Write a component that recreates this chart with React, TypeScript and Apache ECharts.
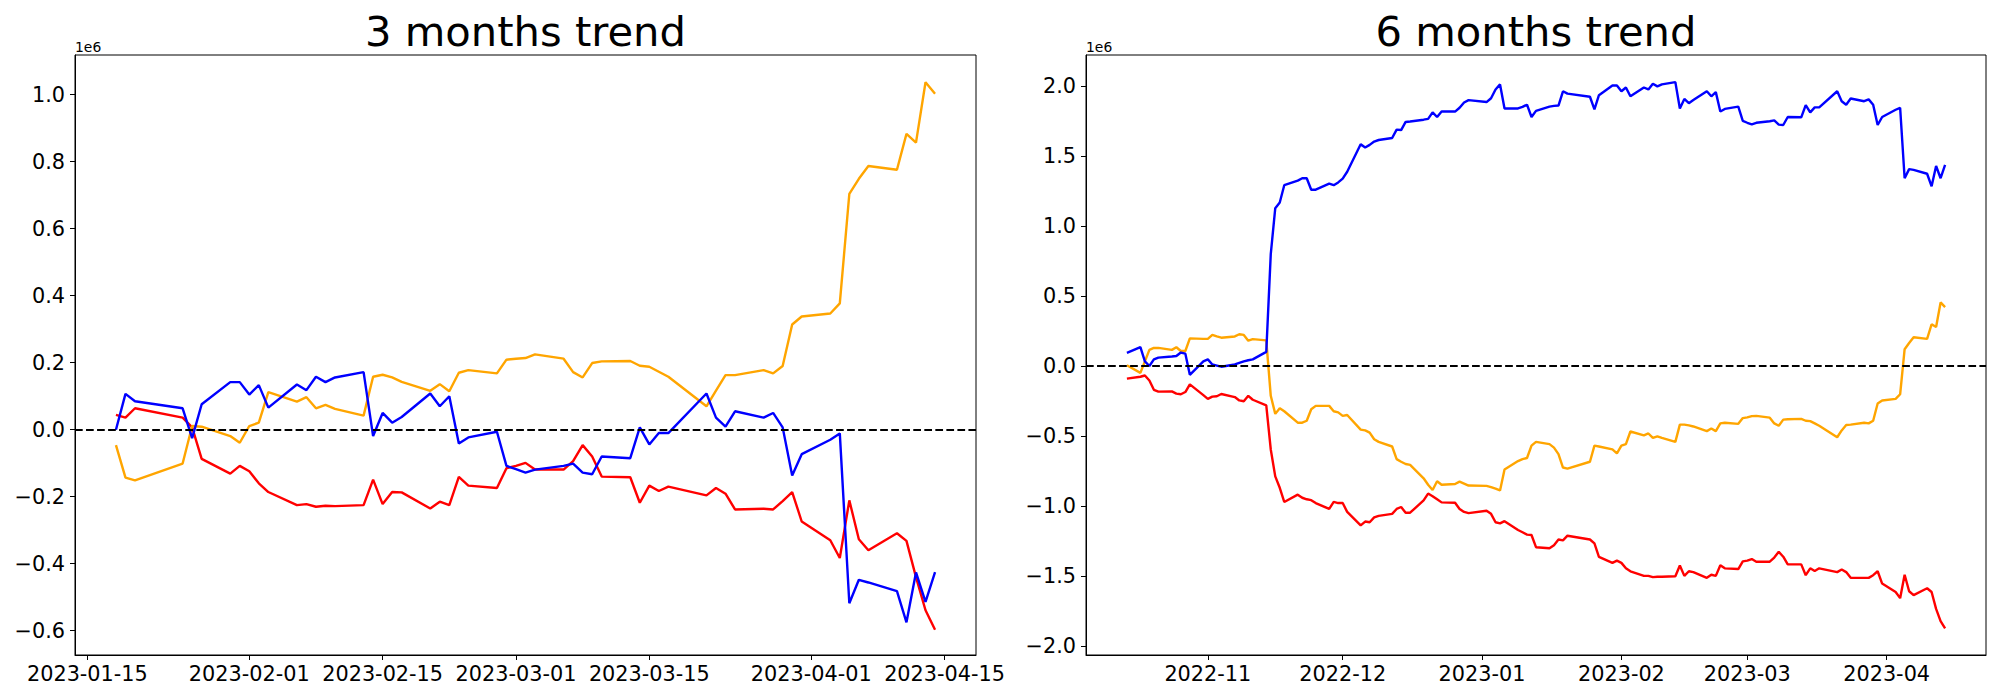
import React, { useEffect, useRef } from "react";
import * as echarts from "echarts";

// ---------- data (values in units of 1e6) ----------
const TITLES = ["3 months trend", "6 months trend"];
const OFFSET_TEXT = "1e6";

const LEFT_DATES = [
  "2023-01-18", "2023-01-19", "2023-01-20", "2023-01-25", "2023-01-26", "2023-01-27", "2023-01-30", "2023-01-31",
  "2023-02-01", "2023-02-02", "2023-02-03", "2023-02-06", "2023-02-07", "2023-02-08", "2023-02-09", "2023-02-10",
  "2023-02-13", "2023-02-14", "2023-02-15", "2023-02-16", "2023-02-17", "2023-02-20", "2023-02-21", "2023-02-22",
  "2023-02-23", "2023-02-24", "2023-02-27", "2023-02-28",
  "2023-03-01", "2023-03-02", "2023-03-03", "2023-03-06", "2023-03-07", "2023-03-08", "2023-03-09", "2023-03-10",
  "2023-03-13", "2023-03-14", "2023-03-15", "2023-03-16", "2023-03-17", "2023-03-21", "2023-03-22", "2023-03-23",
  "2023-03-24", "2023-03-27", "2023-03-28", "2023-03-29", "2023-03-30", "2023-03-31",
  "2023-04-03", "2023-04-04", "2023-04-05", "2023-04-06", "2023-04-07", "2023-04-10", "2023-04-11", "2023-04-12",
  "2023-04-13", "2023-04-14",
];
const LEFT_BLUE = [
  0.0, 0.107, 0.085, 0.064, -0.025, 0.076, 0.142, 0.142,
  0.105, 0.133, 0.066, 0.135, 0.118, 0.158, 0.142, 0.156,
  0.172, -0.019, 0.05, 0.021, 0.038, 0.108, 0.07, 0.1,
  -0.041, -0.023, -0.006, -0.108,
  -0.118, -0.128, -0.119, -0.108, -0.101, -0.128, -0.133, -0.08,
  -0.085, 0.007, -0.044, -0.01, -0.01, 0.108, 0.036, 0.009,
  0.055, 0.036, 0.05, 0.007, -0.137, -0.073,
  -0.03, -0.011, -0.518, -0.448, -0.456, -0.482, -0.575, -0.426,
  -0.514, -0.425,
];
const LEFT_RED = [
  0.044, 0.036, 0.064, 0.036, 0.007, -0.087, -0.131, -0.108,
  -0.124, -0.16, -0.186, -0.225, -0.222, -0.23, -0.227, -0.228,
  -0.225, -0.149, -0.222, -0.186, -0.187, -0.235, -0.215, -0.225,
  -0.141, -0.167, -0.174, -0.115,
  -0.108, -0.099, -0.119, -0.119, -0.094, -0.046, -0.08, -0.14,
  -0.142, -0.218, -0.167, -0.183, -0.17, -0.196, -0.174, -0.191,
  -0.238, -0.236, -0.238, -0.213, -0.186, -0.274,
  -0.33, -0.383, -0.211, -0.327, -0.36, -0.309, -0.332, -0.44,
  -0.539, -0.597,
];
const LEFT_ORANGE = [
  -0.046, -0.143, -0.151, -0.101, 0.011, 0.009, -0.019, -0.039,
  0.011, 0.021, 0.112, 0.084, 0.097, 0.064, 0.074, 0.062,
  0.042, 0.158, 0.164, 0.156, 0.143, 0.116, 0.136, 0.115,
  0.17, 0.178, 0.168, 0.209,
  0.212, 0.214, 0.225, 0.212, 0.172, 0.156, 0.199, 0.204,
  0.205, 0.191, 0.188, 0.173, 0.158, 0.07, 0.117, 0.163,
  0.163, 0.178, 0.168, 0.19, 0.314, 0.338,
  0.347, 0.377, 0.704, 0.749, 0.787, 0.776, 0.883, 0.857,
  1.037, 1.003,
];

const RIGHT_DATES = [
  // Oct (12)
  "2022-10-14", "2022-10-17", "2022-10-18", "2022-10-19", "2022-10-20", "2022-10-21",
  "2022-10-24", "2022-10-25", "2022-10-26", "2022-10-27", "2022-10-28", "2022-10-31",
  // Nov (22)
  "2022-11-01", "2022-11-02", "2022-11-03", "2022-11-04", "2022-11-07", "2022-11-08", "2022-11-09", "2022-11-10",
  "2022-11-11", "2022-11-14", "2022-11-15", "2022-11-16", "2022-11-17", "2022-11-18", "2022-11-21", "2022-11-22",
  "2022-11-23", "2022-11-24", "2022-11-25", "2022-11-28", "2022-11-29", "2022-11-30",
  // Dec (21)
  "2022-12-01", "2022-12-02", "2022-12-05", "2022-12-06", "2022-12-07", "2022-12-08", "2022-12-09", "2022-12-12",
  "2022-12-13", "2022-12-14", "2022-12-15", "2022-12-16", "2022-12-19", "2022-12-20", "2022-12-21", "2022-12-22",
  "2022-12-23", "2022-12-26", "2022-12-27", "2022-12-28", "2022-12-29",
  // Jan (20)
  "2023-01-02", "2023-01-03", "2023-01-04", "2023-01-05", "2023-01-06", "2023-01-09", "2023-01-10", "2023-01-11",
  "2023-01-12", "2023-01-13", "2023-01-16", "2023-01-17", "2023-01-18", "2023-01-19", "2023-01-20", "2023-01-25",
  "2023-01-26", "2023-01-27", "2023-01-30", "2023-01-31",
  // Feb (20)
  "2023-02-01", "2023-02-02", "2023-02-03", "2023-02-06", "2023-02-07", "2023-02-08", "2023-02-09", "2023-02-10",
  "2023-02-13", "2023-02-14", "2023-02-15", "2023-02-16", "2023-02-17", "2023-02-20", "2023-02-21", "2023-02-22",
  "2023-02-23", "2023-02-24", "2023-02-27", "2023-02-28",
  // Mar (22)
  "2023-03-01", "2023-03-02", "2023-03-03", "2023-03-06", "2023-03-07", "2023-03-08", "2023-03-09", "2023-03-10",
  "2023-03-13", "2023-03-14", "2023-03-15", "2023-03-16", "2023-03-17", "2023-03-21", "2023-03-22", "2023-03-23",
  "2023-03-24", "2023-03-27", "2023-03-28", "2023-03-29", "2023-03-30", "2023-03-31",
  // Apr (10)
  "2023-04-03", "2023-04-04", "2023-04-05", "2023-04-06", "2023-04-07", "2023-04-10", "2023-04-11", "2023-04-12",
  "2023-04-13", "2023-04-14",
];
const RIGHT_BLUE = [
  0.093, 0.134, 0.033, 0.0, 0.047, 0.06,
  0.068, 0.071, 0.096, 0.088, -0.063, 0.033,
  0.047, 0.011, 0.003, -0.005, 0.011, 0.022, 0.033, 0.041,
  0.047, 0.101, 0.799, 1.127, 1.168, 1.291, 1.324, 1.341,
  1.341, 1.259, 1.259, 1.302, 1.291, 1.311,
  1.338, 1.387, 1.584, 1.56, 1.579, 1.603, 1.614, 1.628,
  1.688, 1.685, 1.743, 1.746, 1.759, 1.765, 1.811, 1.778,
  1.817, 1.817, 1.844, 1.882, 1.899,
  1.885, 1.912, 1.975, 2.011, 1.839, 1.839, 1.85, 1.866,
  1.778, 1.822, 1.852, 1.858, 1.86, 1.962, 1.945, 1.923,
  1.833, 1.934, 2.003, 2.003,
  1.962, 1.989, 1.926, 1.989, 1.975, 2.016, 1.997, 2.011,
  2.027, 1.839, 1.907, 1.877, 1.899, 1.962, 1.926, 1.956,
  1.817, 1.836, 1.852, 1.751,
  1.737, 1.726, 1.737, 1.748, 1.754, 1.724, 1.721, 1.778,
  1.776, 1.863, 1.811, 1.847, 1.847, 1.962, 1.891, 1.866,
  1.91, 1.891, 1.904, 1.866, 1.721, 1.778,
  1.83, 1.844, 1.341, 1.406, 1.401, 1.373, 1.283, 1.428,
  1.341, 1.436,
];
const RIGHT_RED = [
  -0.09, -0.077, -0.068, -0.104, -0.17, -0.183,
  -0.181, -0.197, -0.202, -0.186, -0.131, -0.208,
  -0.235, -0.219, -0.216, -0.2, -0.222, -0.246, -0.252, -0.213,
  -0.241, -0.282, -0.596, -0.788, -0.87, -0.971, -0.919, -0.941,
  -0.952, -0.958, -0.979, -1.021, -0.971, -0.979,
  -0.979, -1.042, -1.138, -1.111, -1.116, -1.081, -1.07, -1.056,
  -1.021, -1.007, -1.048, -1.048, -0.96, -0.911, -0.93, -0.952,
  -0.974, -0.977, -1.021, -1.042, -1.051,
  -1.034, -1.056, -1.116, -1.124, -1.108, -1.171, -1.187, -1.204,
  -1.207, -1.294, -1.302, -1.28, -1.239, -1.245, -1.212, -1.239,
  -1.267, -1.363, -1.406, -1.39,
  -1.406, -1.445, -1.466, -1.499, -1.499, -1.508, -1.505, -1.505,
  -1.502, -1.425, -1.499, -1.466, -1.472, -1.513, -1.491, -1.499,
  -1.423, -1.445, -1.45, -1.395,
  -1.39, -1.379, -1.398, -1.398, -1.368, -1.327, -1.362, -1.417,
  -1.417, -1.494, -1.445, -1.464, -1.445, -1.472, -1.453, -1.472,
  -1.513, -1.513, -1.513, -1.494, -1.466, -1.554,
  -1.614, -1.658, -1.491, -1.609, -1.636, -1.587, -1.614, -1.735,
  -1.822, -1.874,
];
const RIGHT_ORANGE = [
  0.005, -0.049, 0.033, 0.115, 0.129, 0.129,
  0.115, 0.134, 0.107, 0.107, 0.197, 0.194,
  0.194, 0.222, 0.211, 0.202, 0.211, 0.227, 0.222, 0.181,
  0.192, 0.183, -0.213, -0.342, -0.301, -0.323, -0.405, -0.405,
  -0.391, -0.309, -0.285, -0.285, -0.323, -0.331,
  -0.356, -0.35, -0.454, -0.46, -0.476, -0.523, -0.542, -0.575,
  -0.665, -0.684, -0.7, -0.706, -0.802, -0.848, -0.886, -0.823,
  -0.848, -0.843, -0.826, -0.84, -0.854,
  -0.856, -0.865, -0.876, -0.889, -0.739, -0.679, -0.665, -0.657,
  -0.569, -0.542, -0.558, -0.583, -0.629, -0.725, -0.733, -0.684,
  -0.569, -0.575, -0.596, -0.624,
  -0.569, -0.558, -0.468, -0.495, -0.482, -0.514, -0.503, -0.514,
  -0.542, -0.419, -0.419, -0.424, -0.432, -0.465, -0.446, -0.465,
  -0.41, -0.405, -0.413, -0.372,
  -0.367, -0.358, -0.356, -0.369, -0.41, -0.427, -0.383, -0.38,
  -0.378, -0.391, -0.394, -0.41, -0.427, -0.509, -0.46, -0.421,
  -0.419, -0.405, -0.41, -0.391, -0.268, -0.246,
  -0.235, -0.202, 0.12, 0.164, 0.205, 0.194, 0.298, 0.279,
  0.454, 0.421,
];

const LEFT_X_TICKS = ["2023-01-15", "2023-02-01", "2023-02-15", "2023-03-01", "2023-03-15", "2023-04-01", "2023-04-15"];
const RIGHT_X_TICKS = ["2022-11-01", "2022-12-01", "2023-01-01", "2023-02-01", "2023-03-01", "2023-04-01"];
const LEFT_Y_TICKS = [-0.6, -0.4, -0.2, 0.0, 0.2, 0.4, 0.6, 0.8, 1.0];
const RIGHT_Y_TICKS = [-2.0, -1.5, -1.0, -0.5, 0.0, 0.5, 1.0, 1.5, 2.0];
const LEFT_Y_RANGE = [-0.6725, 1.1185];
const RIGHT_Y_RANGE = [-2.064, 2.221];

const COLORS = { blue: "#0000ff", red: "#ff0000", orange: "#ffa500" };

// ---------- helpers ----------
const toMs = (s: string) => {
  const [y, m, d] = s.split("-").map(Number);
  return Date.UTC(y, m - 1, d);
};
const pad2 = (n: number) => (n < 10 ? "0" + n : "" + n);
const fmtDay = (v: number) => {
  const d = new Date(v);
  return d.getUTCFullYear() + "-" + pad2(d.getUTCMonth() + 1) + "-" + pad2(d.getUTCDate());
};
const fmtMonth = (v: number) => {
  const d = new Date(v);
  return d.getUTCFullYear() + "-" + pad2(d.getUTCMonth() + 1);
};
const fmtY = (v: number) => {
  const r = Math.round(v * 10) / 10;
  return (r < 0 ? "\u2212" : "") + Math.abs(r).toFixed(1);
};
const xRange = (dates: string[]) => {
  const a = toMs(dates[0]);
  const b = toMs(dates[dates.length - 1]);
  const m = (b - a) * 0.05;
  return [a - m, b + m];
};

const FONT = "DejaVu Sans";
const LINE_W = 2.4;

export default function App() {
  const ref = useRef<HTMLDivElement>(null);

  useEffect(() => {
    if (!ref.current) return;
    const chart = echarts.init(ref.current, undefined, { renderer: "svg" });

    const grids = [
      { left: 75, top: 55, width: 901, height: 600 },
      { left: 1086, top: 55, width: 900, height: 600 },
    ];

    const lx = xRange(LEFT_DATES);
    const rx = xRange(RIGHT_DATES);

    const mkX = (idx: number, range: number[], ticks: string[], fmt: (v: number) => string) => ({
      type: "value",
      gridIndex: idx,
      min: range[0],
      max: range[1],
      splitLine: { show: false },
      axisLine: { show: true, onZero: false, lineStyle: { color: "#000", width: 1 } },
      axisTick: {
        show: true,
        inside: false,
        length: 5,
        lineStyle: { color: "#000", width: 1 },
        customValues: ticks.map(toMs),
      },
      axisLabel: {
        show: true,
        margin: 8,
        color: "#000",
        fontSize: 20.8,
        fontFamily: FONT,
        customValues: ticks.map(toMs),
        formatter: (v: number) => fmt(v),
        hideOverlap: false,
        showMinLabel: true,
        showMaxLabel: true,
      },
    });

    const mkY = (idx: number, range: number[], ticks: number[]) => ({
      type: "value",
      gridIndex: idx,
      min: range[0],
      max: range[1],
      splitLine: { show: false },
      axisLine: { show: true, onZero: false, lineStyle: { color: "#000", width: 1 } },
      axisTick: {
        show: true,
        inside: false,
        length: 5,
        lineStyle: { color: "#000", width: 1 },
        customValues: ticks,
      },
      axisLabel: {
        show: true,
        margin: 10,
        color: "#000",
        fontSize: 20.8,
        fontFamily: FONT,
        customValues: ticks,
        formatter: (v: number) => fmtY(v),
      },
    });

    const zeroLine = {
      silent: true,
      symbol: ["none", "none"],
      label: { show: false },
      lineStyle: { color: "#000", type: [7.7, 3.33], width: 2.2 },
      data: [{ yAxis: 0 }],
      animation: false,
    };

    const mkSeries = (idx: number, dates: string[], vals: number[], color: string, withZero: boolean) => ({
      type: "line",
      xAxisIndex: idx,
      yAxisIndex: idx,
      data: dates.map((d, i) => [toMs(d), vals[i]]),
      showSymbol: false,
      symbol: "none",
      lineStyle: { color, width: LINE_W },
      itemStyle: { color },
      emphasis: { disabled: true },
      ...(withZero ? { markLine: zeroLine } : {}),
    });

    const titleText = (cx: number, text: string) => ({
      type: "text",
      x: cx,
      y: 31.5,
      style: {
        text,
        fontSize: 41.67,
        fontFamily: FONT,
        fill: "#000",
        align: "center",
        verticalAlign: "middle",
      },
    });
    const offText = (x: number) => ({
      type: "text",
      x,
      y: 46.5,
      style: {
        text: OFFSET_TEXT,
        fontSize: 13.9,
        fontFamily: FONT,
        fill: "#000",
        align: "left",
        verticalAlign: "middle",
      },
    });

    chart.setOption({
      animation: false,
      backgroundColor: "#fff",
      grid: grids.map((g) => ({ ...g, show: true, borderColor: "#000", borderWidth: 1, backgroundColor: "transparent" })),
      xAxis: [mkX(0, lx, LEFT_X_TICKS, fmtDay), mkX(1, rx, RIGHT_X_TICKS, fmtMonth)],
      yAxis: [mkY(0, LEFT_Y_RANGE, LEFT_Y_TICKS), mkY(1, RIGHT_Y_RANGE, RIGHT_Y_TICKS)],
      series: [
        mkSeries(0, LEFT_DATES, LEFT_RED, COLORS.red, false),
        mkSeries(0, LEFT_DATES, LEFT_ORANGE, COLORS.orange, false),
        mkSeries(0, LEFT_DATES, LEFT_BLUE, COLORS.blue, true),
        mkSeries(1, RIGHT_DATES, RIGHT_RED, COLORS.red, false),
        mkSeries(1, RIGHT_DATES, RIGHT_ORANGE, COLORS.orange, false),
        mkSeries(1, RIGHT_DATES, RIGHT_BLUE, COLORS.blue, true),
      ],
      graphic: [
        titleText(525.5, TITLES[0]),
        titleText(1536, TITLES[1]),
        offText(75),
        offText(1086),
      ],
    });

    return () => {
      chart.dispose();
    };
  }, []);

  return (
    <div
      ref={ref}
      style={{ position: "absolute", left: 0, top: 0, width: 2000, height: 700, background: "#fff" }}
    />
  );
}
